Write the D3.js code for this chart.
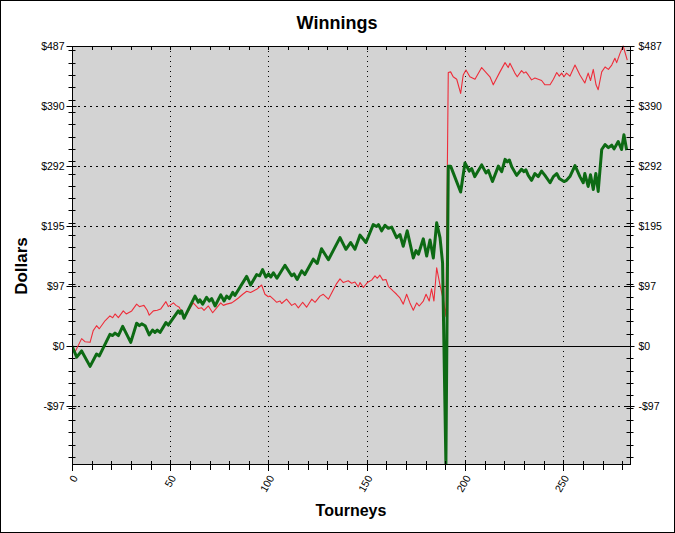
<!DOCTYPE html>
<html>
<head>
<meta charset="utf-8">
<script src="https://cdn.jsdelivr.net/npm/d3@7"></script>
<style>
  body { margin: 0; background: #fff; }
  svg { display: block; font-family: Arial, "Liberation Sans", sans-serif; }
</style>
</head>
<body>
<div id="chart"></div>
<script>
// red (thin) series: tourney number, dollars
var redTourney = [0,1.5,4.9,6.6,9.2,10.8,12.5,13.9,16.8,19.3,20.7,21.9,23.6,26.1,27.6,30.4,32.9,34.3,35.5,36.6,38.3,39.3,41.4,43.4,45.1,47.8,49,51.6,52.9,54.6,56.6,58.4,61.7,64.3,66,67.2,69.4,71.6,73.6,75.7,77,78.7,81.3,83,84.7,86.9,88.9,90.9,94,96.5,98.2,99.9,100.8,102.5,104.2,105.9,106.7,109.2,111.8,113.5,115.2,117.4,119.4,122,123.7,126.2,127.9,130.5,134.4,136.4,138.1,140.6,142.3,144,145.7,146.6,148.3,150.3,152.5,154.2,155.4,156.7,158.2,159.8,161,163.5,165.2,166.9,168.6,170.3,172,173.7,175.4,176.7,178.8,180.2,181.8,183,184.2,185.6,187.3,189,190.3,191.5,192.7,194,195.8,197.8,199.1,200.5,202.5,205.1,208.5,211,212.7,214.4,217.8,220.4,222,222.9,225.4,226.6,228.8,230,231,232.2,233.9,235.6,237.3,239,240.7,243.3,245,246.7,248,249.2,250.4,251.7,253.4,256,258.5,261,262.7,263.9,265.3,266.7,267.8,269.6,271.3,273,274.7,276.3,277.2,278.9,280.5,282.6];
var redDollars = [0,-10,12,7,6,25,33,28,41,49,46,52,46,57,52,57,68,64,65,66,58,50,57,58,60,72,64,70,66,63,49,52,70,61,62,58,65,54,62,70,66,68,70,74,78,84,89,87,92,99,84,80,81,76,71,73,69,76,66,69,62,71,63,76,71,81,84,76,100,109,103,106,102,104,96,103,95,103,107,114,110,115,107,108,97,89,84,78,68,84,70,58,70,65,73,84,73,93,73,127,99,75,48,444,445,437,433,410,440,448,437,433,452,443,437,424,445,460,452,459,443,437,447,443,445,440,432,435,433,431,424,424,433,444,438,443,437,443,438,456,440,427,443,431,449,424,416,445,453,449,456,467,460,475,487,464];

// green (thick) series: tourney number, dollars
var greenTourney = [0,2.4,4.9,9.2,12.5,13.9,19.3,20.7,21.9,23.6,25.8,29.9,32.9,34.3,35.5,37.2,39.3,41,42.2,43.4,44.8,47.8,49,54.1,55,55.8,57,62.6,64.3,65.1,66.5,68.5,69.9,71.1,72.8,75.7,77.4,78.7,80.1,81.8,82.9,88.9,90.9,94,95.5,97,98.7,100,101.2,102.5,104.3,108.4,111.8,113,114.6,116.9,118.5,122.8,124.8,127,130.5,136.4,139.4,141.8,144,146.6,149.6,153.3,155,156,157.6,159.3,161,162.7,165.2,166.9,168.6,170.6,173.7,175.1,176.3,178.8,180.5,182.2,183.9,185.6,187.3,188.6,190.3,191.5,192.7,197.8,200,202.2,203.4,205,208.5,210.7,211.9,214,217,218.7,220.4,221.5,222.6,223.8,226.3,228.8,230,231,232.2,233.9,235.6,237.3,239,240.7,243.3,245,246.7,248,250.4,251.7,253.4,256,258.5,260.2,261,262.7,263.9,265.3,266.6,267.8,269.6,271.3,273,274.7,275.9,278,279.7,280.9,282.3];
var greenDollars = [0,-18,-8,-33,-13,-16,19,17,21,17,32,6,37,33,36,33,18,26,22,26,22,38,34,57,53,57,45,81,71,75,68,79,73,77,65,83,73,81,77,87,82,113,99,116,114,124,112,117,112,119,110,131,114,117,108,122,116,141,134,158,140,176,157,168,157,180,168,197,194,197,187,196,191,193,176,181,162,187,143,155,149,174,146,172,143,200,176,135,-191,292,292,250,297,284,288,275,294,281,285,267,292,283,303,299,302,291,277,287,283,286,277,269,280,275,284,277,265,275,280,272,267,269,275,293,275,265,280,259,278,254,280,251,319,327,322,326,320,332,319,343,318];

var yMajor = [-97.4, 0, 97.4, 194.8, 292.2, 389.6, 487];
var yMajorLabels = ["-$97", "$0", "$97", "$195", "$292", "$390", "$487"];
var xMajor = [0, 50, 100, 150, 200, 250];

var width = 675, height = 533;
var margins = {top: 46, right: 44, bottom: 69, left: 72};

var svg = d3.select("#chart").append("svg")
    .attr("width", width).attr("height", height);

svg.append("rect")
    .attr("x", 0.5).attr("y", 0.5)
    .attr("width", width - 1).attr("height", height - 1)
    .attr("fill", "#fff").attr("stroke", "#000");

var x = d3.scaleLinear()
    .domain([0, 284.5])
    .range([margins.left, width - margins.right]);

var y = d3.scaleLinear()
    .domain([-191.5, 487])
    .range([height - margins.bottom, margins.top]);

var x0 = x.range()[0], x1 = x.range()[1], y0 = y.range()[0], y1 = y.range()[1];

svg.append("rect")
    .attr("x", x0).attr("y", y1)
    .attr("width", x1 - x0).attr("height", y0 - y1)
    .attr("fill", "#d3d3d3");

// dotted grid
svg.append("g")
    .selectAll("line")
    .data(yMajor.filter(d => d !== 0 && d !== 487))
    .enter().append("line")
    .attr("x1", x0).attr("x2", x1)
    .attr("y1", d => Math.round(y(d)) + 0.5).attr("y2", d => Math.round(y(d)) + 0.5)
    .attr("stroke", "#000").attr("stroke-dasharray", "2,4");

svg.append("g")
    .selectAll("line")
    .data(xMajor.filter(d => d > 0))
    .enter().append("line")
    .attr("x1", d => Math.round(x(d)) + 0.5).attr("x2", d => Math.round(x(d)) + 0.5)
    .attr("y1", y1).attr("y2", y0)
    .attr("stroke", "#000").attr("stroke-dasharray", "1,4");

// zero line
svg.append("line")
    .attr("x1", x0).attr("x2", x1)
    .attr("y1", Math.round(y(0)) + 0.5).attr("y2", Math.round(y(0)) + 0.5)
    .attr("stroke", "#000");

// lines
svg.append("clipPath").attr("id", "plotclip")
    .append("rect")
    .attr("x", x0).attr("y", y1 - 1)
    .attr("width", x1 - x0).attr("height", y0 - y1 + 1);

var line = d3.line()
    .x(d => x(d[0]))
    .y(d => y(d[1]));

var redData = redTourney.map((t, i) => [t, redDollars[i]]);
var greenData = greenTourney.map((t, i) => [t, greenDollars[i]]);

svg.append("path")
    .attr("clip-path", "url(#plotclip)")
    .attr("d", line(redData))
    .attr("fill", "none")
    .attr("stroke", "#ee2d3a")
    .attr("stroke-width", 1.1)
    .attr("stroke-linejoin", "round");

svg.append("path")
    .attr("clip-path", "url(#plotclip)")
    .attr("d", line(greenData))
    .attr("fill", "none")
    .attr("stroke", "#0d6a14")
    .attr("stroke-width", 3)
    .attr("stroke-linejoin", "round");

// frame
svg.append("rect")
    .attr("x", x0 + 0.5).attr("y", y1 + 0.5)
    .attr("width", x1 - x0 - 1).attr("height", y0 - y1)
    .attr("fill", "none").attr("stroke", "#000");

// y axes: minor ticks every $20, major every 487/5
var yMinor = d3.range(-180, 487, 20);

function yTicks(xPos, dir) {
    var g = svg.append("g");
    g.selectAll(".minor")
        .data(yMinor)
        .enter().append("line")
        .attr("x1", xPos - 4).attr("x2", xPos + 3)
        .attr("y1", d => Math.round(y(d)) + 0.5).attr("y2", d => Math.round(y(d)) + 0.5)
        .attr("stroke", "#000");
    g.selectAll(".major")
        .data(yMajor)
        .enter().append("line")
        .attr("x1", xPos - 6).attr("x2", xPos + 4)
        .attr("y1", d => Math.round(y(d)) + 0.5).attr("y2", d => Math.round(y(d)) + 0.5)
        .attr("stroke", "#000");
    g.selectAll("text")
        .data(yMajor)
        .enter().append("text")
        .attr("x", dir < 0 ? xPos - 8 : xPos + 8)
        .attr("y", d => y(d))
        .attr("dy", "0.35em")
        .attr("text-anchor", dir < 0 ? "end" : "start")
        .attr("font-size", "10.5px")
        .text((d, i) => yMajorLabels[i]);
}
yTicks(x0 + 0.5, -1);
yTicks(x1 - 0.5, 1);

// x axis ticks
var xMinor = d3.range(10, 284, 10);
svg.append("g")
    .selectAll("line")
    .data(xMinor)
    .enter().append("line")
    .attr("x1", d => Math.round(x(d)) + 0.5).attr("x2", d => Math.round(x(d)) + 0.5)
    .attr("y1", y0 - 3).attr("y2", y0 + 6)
    .attr("stroke", "#000");

svg.append("g")
    .selectAll("line")
    .data(xMinor)
    .enter().append("line")
    .attr("x1", d => Math.round(x(d)) + 0.5).attr("x2", d => Math.round(x(d)) + 0.5)
    .attr("y1", y1).attr("y2", y1 + 4)
    .attr("stroke", "#000");

svg.append("g")
    .selectAll("line")
    .data(xMajor)
    .enter().append("line")
    .attr("x1", d => Math.round(x(d)) + 0.5).attr("x2", d => Math.round(x(d)) + 0.5)
    .attr("y1", y0 - 4).attr("y2", y0 + 7)
    .attr("stroke", "#000");

svg.append("g")
    .selectAll("text")
    .data(xMajor)
    .enter().append("text")
    .attr("transform", d => "translate(" + (x(d) + 3) + "," + (y0 + 12) + ") rotate(-60)")
    .attr("text-anchor", "end")
    .attr("dy", "0.35em")
    .attr("font-size", "10.5px")
    .text(d => d);

// titles
svg.append("text")
    .attr("x", 337).attr("y", 29)
    .attr("text-anchor", "middle")
    .attr("font-size", "18px").attr("font-weight", "bold")
    .text("Winnings");

svg.append("text")
    .attr("transform", "translate(27,266) rotate(-90)")
    .attr("text-anchor", "middle")
    .attr("font-size", "17px").attr("font-weight", "bold")
    .text("Dollars");

svg.append("text")
    .attr("x", 351).attr("y", 516)
    .attr("text-anchor", "middle")
    .attr("font-size", "16px").attr("font-weight", "bold")
    .text("Tourneys");
</script>
</body>
</html>
